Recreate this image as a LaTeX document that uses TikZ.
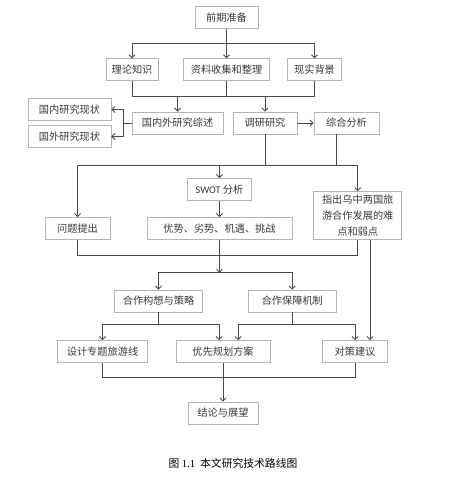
\documentclass[tikz,border=0pt]{standalone}
\usepackage{fontspec}
\newfontfamily\cjk{Noto Sans CJK SC}
\newfontfamily\latinsans{Carlito}
\usetikzlibrary{arrows.meta}
\definecolor{boxgray}{HTML}{B4B4B4}
\definecolor{linegray}{HTML}{4A4A4A}
\definecolor{textgray}{HTML}{3A3A3A}
\tikzset{
  box/.style={draw=boxgray, line width=0.9pt, fill=white, inner sep=0pt,
    minimum height=21.5pt, text=textgray, font=\cjk\fontsize{10.2}{16}\selectfont},
  conn/.style={draw=linegray, line width=0.8pt},
  arr/.style={conn, -{Straight Barb[length=3pt,width=6pt]}}
}
\begin{document}
\begin{tikzpicture}[x=1pt,y=-1pt]
\useasboundingbox[fill=white] (0,0) rectangle (448,477);
% nodes
\node[box,minimum width=63pt] (prep) at (226.5,17.5) {前期准备};
\node[box,minimum width=52pt] (ll) at (132,69.5) {理论知识};
\node[box,minimum width=86pt] (zl) at (226.5,69.5) {资料收集和整理};
\node[box,minimum width=54pt] (xs) at (314.5,69.5) {现实背景};
\node[box,minimum width=91pt,minimum height=22pt] (gn) at (177.5,123) {国内外研究综述};
\node[box,minimum width=64pt,minimum height=22pt] (dy) at (265,123) {调研研究};
\node[box,minimum width=65pt,minimum height=22pt] (zh) at (346.5,123) {综合分析};
\node[box,minimum width=83pt] (gnxz) at (69.5,109.5) {国内研究现状\hspace{18pt}};
\node[box,minimum width=83pt] (gwxz) at (69.5,136.5) {国外研究现状\hspace{18pt}};
\node[box,minimum width=64pt,minimum height=22pt] (swot) at (219.5,189.5) {{\latinsans SWOT} 分析};
\node[box,minimum width=65pt,minimum height=22pt] (wt) at (77.5,228.5) {问题提出};
\node[box,minimum width=145pt,minimum height=22pt] (ys) at (219.5,228.5) {优势、劣势、机遇、挑战};
\node[box,minimum width=88pt,minimum height=48pt,align=center] (zc) at (357.7,215.5) {指出乌中两国旅\\游合作发展的难\\点和弱点};
\node[box,minimum width=88pt,minimum height=22pt] (hzgx) at (158.5,301) {合作构想与策略};
\node[box,minimum width=88pt,minimum height=22pt] (hzbz) at (292.3,301) {合作保障机制};
\node[box,minimum width=90pt,minimum height=22pt] (sj) at (102.5,351.5) {设计专题旅游线};
\node[box,minimum width=94pt,minimum height=22pt] (yx) at (223,351.5) {优先规划方案};
\node[box,minimum width=65pt,minimum height=22pt] (dc) at (355,351.5) {对策建议};
\node[box,minimum width=70pt,minimum height=22pt] (jl) at (223,413) {结论与展望};
\node[font=\cjk\fontsize{10.8}{13}\selectfont, text=black, inner sep=0pt] (cap) at (233,463.5) {图 {\fontspec{Liberation Serif}1.1}\ \ 本文研究技术路线图};
% coordinates
\coordinate (j1) at (226.5,43);
\coordinate (j2) at (226.5,96);
\coordinate (b1) at (123,123);
\coordinate (j3) at (265,165.7);
\coordinate (zhb) at (336.7,134);
\coordinate (j4) at (219.5,255.3);
\coordinate (j5) at (219.5,272.7);
\coordinate (j6) at (158.5,324);
\coordinate (j7) at (292.3,324);
\coordinate (j8) at (223,377.3);
% connectors
\draw[conn] (prep.south) -- (j1);
\draw[arr] (j1) -| (ll.north);
\draw[arr] (j1) -| (xs.north);
\draw[arr] (j1) -- (zl.north);
\draw[conn] (ll.south) |- (xs.south |- j2) -- (xs.south);
\draw[conn] (zl.south) -- (j2);
\draw[arr] (gn.north |- j2) -- (gn.north);
\draw[arr] (dy.north |- j2) -- (dy.north);
\draw[conn] (gn.west) -- (b1);
\draw[arr] (b1) |- (gnxz.east);
\draw[arr] (b1) |- (gwxz.east);
\draw[arr] (dy.east) -- (zh.west);
\draw[conn] (dy.south) -- (j3);
\draw[conn] (zhb) -- (zhb |- j3);
\draw[arr] (j3) -| (wt.north);
\draw[arr] (j3) -| (zc.north);
\draw[arr] (swot.north |- j3) -- (swot.north);
\draw[arr] (swot.south) -- (ys.north);
\draw[conn] (wt.south) |- (zc.south |- j4) -- (zc.south);
\draw[conn] (ys.south) -- (j4);
\draw[arr] (j4) -- (j5);
\draw[arr] (j5) -| (hzgx.north);
\draw[arr] (j5) -| (hzbz.north);
\draw[arr] ([xshift=12.3pt]zc.south) -- ([xshift=12.3pt]zc.south |- dc.north);
\draw[conn] (hzgx.south) -- (j6);
\draw[arr] (j6) -| (sj.north);
\draw[arr] (j6) -| ([xshift=-4pt]yx.north);
\draw[conn] (hzbz.south) -- (j7);
\draw[arr] (j7) -| ([xshift=15.3pt]yx.north);
\draw[arr] (j7) -| (dc.north);
\draw[conn] (sj.south) |- (dc.south |- j8) -- (dc.south);
\draw[arr] (yx.south) -- (jl.north);
\end{tikzpicture}
\end{document}
